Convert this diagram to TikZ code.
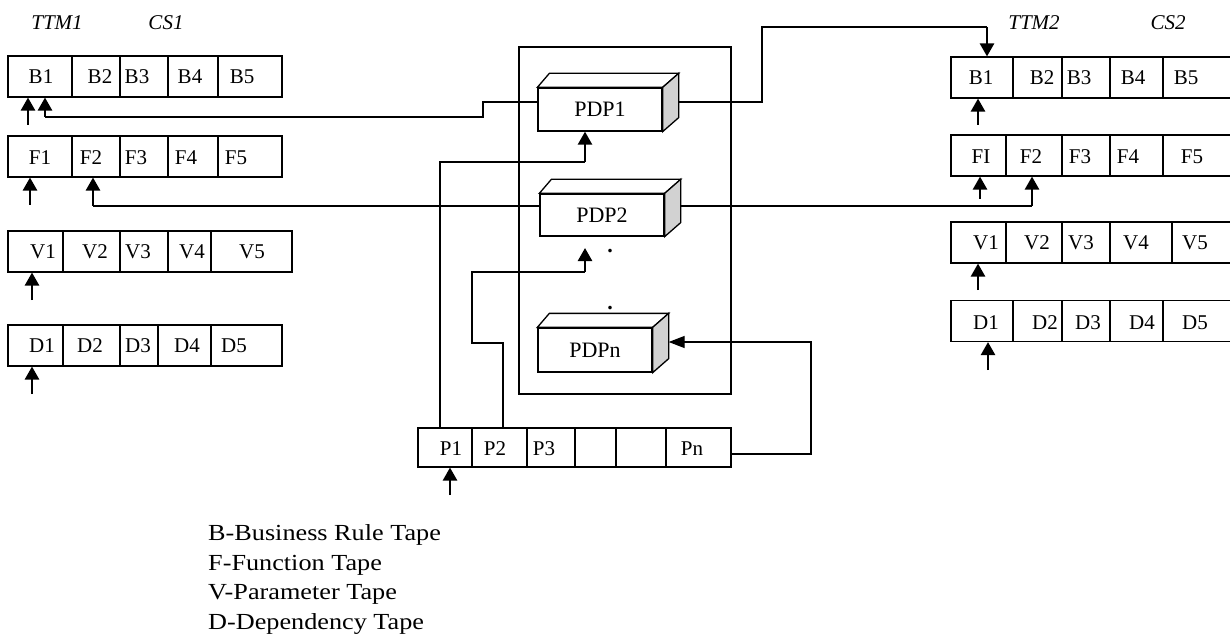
\documentclass[tikz,border=0pt]{standalone}
\usepackage{fontspec}
\setmainfont{Liberation Serif}
\usetikzlibrary{arrows.meta,calc}
\begin{document}
\begin{tikzpicture}[x=1pt,y=-1pt,
 tp/.style={draw, line width=1.1pt, inner sep=0, minimum height=41pt},
 lbl/.style={font=\fontsize{21}{21}\selectfont, inner sep=0},
 ttm/.style={font=\itshape\fontsize{21}{21}\selectfont, inner sep=0},
 ln/.style={line width=1.1pt},
 arr/.style={line width=2.5pt, -{Triangle[width=14pt,length=13pt]}},
 tarr/.style={line width=1.3pt, -{Triangle[width=12pt,length=16pt]}},
 pdp/.style={draw, line width=1.3pt, fill=white, font=\fontsize{22}{22}\selectfont, inner sep=0},
 pdpside/.style={draw, line width=1.3pt, fill=gray!35},
 pdptop/.style={draw, line width=1.3pt, fill=white},
 legend/.style={font=\fontsize{23}{23}\selectfont, anchor=west, inner sep=0}]
\useasboundingbox (0,0) rectangle (1230,636);

% headings
\node[ttm] (ttm1) at (57,23) {TTM1};
\node[ttm] (cs1) at (166,23) {CS1};
\node[ttm] (ttm2) at (1034,23) {TTM2};
\node[ttm] (cs2) at (1168,23) {CS2};

% left tapes
\node[tp, minimum width=274pt] (LB) at (145,76.5) {};
\foreach \x in {72,120,168,218} \draw[ln] (\x,56) -- (\x,97);
\foreach \x/\t in {41/B1,100/B2,137/B3,190/B4,242/B5} \node[lbl] (L\t) at (\x,77) {\t};

\node[tp, minimum width=274pt] (LF) at (145,156.5) {};
\foreach \x in {72,120,168,218} \draw[ln] (\x,136) -- (\x,177);
\foreach \x/\t in {40/F1,91/F2,136/F3,186/F4,236/F5} \node[lbl] (L\t) at (\x,158) {\t};

\node[tp, minimum width=284pt] (LV) at (150,251.5) {};
\foreach \x in {63,120,168,211} \draw[ln] (\x,231) -- (\x,272);
\foreach \x/\t in {43/V1,95/V2,138/V3,192/V4,252/V5} \node[lbl] (L\t) at (\x,252) {\t};

\node[tp, minimum width=274pt] (LD) at (145,345.5) {};
\foreach \x in {63,120,158,211} \draw[ln] (\x,325) -- (\x,366);
\foreach \x/\t in {42/D1,90/D2,138/D3,187/D4,234/D5} \node[lbl] (L\t) at (\x,346) {\t};

% right tapes
\node[tp, minimum width=289pt] (RB) at (1095.5,77.5) {};
\foreach \x in {1013,1062,1110,1163} \draw[ln] (\x,57) -- (\x,98);
\foreach \x/\t in {981/B1,1042/B2,1079/B3,1133/B4,1186/B5} \node[lbl] (R\t) at (\x,78) {\t};

\node[tp, minimum width=289pt] (RF) at (1095.5,155.5) {};
\foreach \x in {1006,1062,1110,1163} \draw[ln] (\x,135) -- (\x,176);
\foreach \x/\t in {981/FI,1031/F2,1080/F3,1128/F4,1192/F5} \node[lbl] (R\t) at (\x,157) {\t};

\node[tp, minimum width=289pt] (RV) at (1095.5,242.5) {};
\foreach \x in {1006,1062,1110,1172} \draw[ln] (\x,222) -- (\x,263);
\foreach \x/\t in {986/V1,1037/V2,1081/V3,1136/V4,1195/V5} \node[lbl] (R\t) at (\x,243) {\t};

\node[tp, minimum width=289pt] (RD) at (1095.5,321) {};
\foreach \x in {1013,1062,1110,1163} \draw[ln] (\x,300.5) -- (\x,341.5);
\foreach \x/\t in {986/D1,1045/D2,1088/D3,1142/D4,1195/D5} \node[lbl] (R\t) at (\x,323) {\t};

% P tape
\node[tp, minimum width=313pt, minimum height=39pt] (PT) at (574.5,447.5) {};
\foreach \x in {472,527,575,616,666} \draw[ln] (\x,428) -- (\x,467);
\foreach \x/\t in {451/P1,495/P2,544/P3,692/Pn} \node[lbl] (T\t) at (\x,449) {\t};

% container
\node[draw, line width=1.1pt, minimum width=212pt, minimum height=347pt, inner sep=0] (box) at (625,220.5) {};

% PDP boxes
\node[pdp, minimum width=124pt, minimum height=43pt] (p1) at (600,109.5) {PDP1};
\node[pdp, minimum width=124pt, minimum height=42pt] (p2) at (602,215) {PDP2};
\node[pdp, minimum width=114pt, minimum height=44pt] (pn) at (595,350) {PDPn};
\foreach \n in {p1,p2,pn}{
  \draw[pdptop] (\n.north west) -- ++(12,-14) -- ($(\n.north east)+(16,-14)$) -- (\n.north east) -- cycle;
  \draw[pdpside] (\n.north east) -- ++(16,-14) -- ($(\n.south east)+(16,-14)$) -- (\n.south east) -- cycle;
}
\node[lbl, font=\fontsize{22}{22}\selectfont\bfseries] (dot1) at (610,251) {.};
\node[lbl, font=\fontsize{22}{22}\selectfont\bfseries] (dot2) at (610,308) {.};

% small pointer arrows
\coordinate (aLB) at (28,125);  \draw[arr] (aLB) -- (aLB |- LB.south);
\coordinate (aLF) at (30,205);  \draw[arr] (aLF) -- (aLF |- LF.south);
\coordinate (aLV) at (32,300);  \draw[arr] (aLV) -- (aLV |- LV.south);
\coordinate (aLD) at (32,394);  \draw[arr] (aLD) -- (aLD |- LD.south);
\coordinate (aRB) at (978,125); \draw[arr] (aRB) -- (aRB |- RB.south);
\coordinate (aRF) at (980,199); \draw[arr] (aRF) -- (aRF |- RF.south);
\coordinate (aRV) at (978,290); \draw[arr] (aRV) -- (aRV |- RV.south);
\coordinate (aRD) at (988,370); \draw[arr] (aRD) -- (aRD |- RD.south);
\coordinate (aPT) at (450,495); \draw[arr] (aPT) -- (aPT |- PT.south);

% PDP1 connectors
\coordinate (c1) at (483,117);
\coordinate (c2) at (45,117);
\draw[ln] ($(p1.west)+(0,-7.5)$) -| (c1) -- (c2);
\draw[arr] (c2) -- (c2 |- LB.south);
\coordinate (c3) at (762,27);
\coordinate (c4) at (987,27);
\draw[ln] ($(p1.east)+(16,-7.5)$) -| (c3) -- (c4);
\draw[arr] (c4) -- (c4 |- RB.north);

% PDP2 connectors
\coordinate (d1) at (93,206);
\coordinate (d2) at (1032,206);
\draw[ln] ($(p2.west)+(0,-9)$) -- (d1);
\draw[arr] (d1) -- (d1 |- LF.south);
\draw[ln] ($(p2.east)+(16,-9)$) -- (d2);
\draw[arr] (d2) -- (d2 |- RF.south);

% P tape connectors
\coordinate (q1) at (440,162);
\coordinate (q1b) at (585,162);
\draw[ln] (q1 |- PT.north) -- (q1) -- (q1b);
\draw[arr] (q1b) -- (q1b |- p1.south);
\coordinate (q2a) at (503,343);
\coordinate (q2b) at (472,272);
\coordinate (q2c) at (585,272);
\draw[ln] (q2a |- PT.north) -- (q2a) -| (q2b) -- (q2c);
\draw[arr] (q2c) -- ++(0,-24);
\coordinate (q3) at (811,454);
\draw[tarr] (PT.east |- q3) -- (q3) |- ($(pn.east)+(16,-8)$);

% legend
\node[legend] (lg1) at (208,535) {\scalebox{1.14}[1]{B-Business Rule Tape}};
\node[legend] (lg2) at (208,565) {\scalebox{1.14}[1]{F-Function Tape}};
\node[legend] (lg3) at (208,594) {\scalebox{1.14}[1]{V-Parameter Tape}};
\node[legend] (lg4) at (208,624) {\scalebox{1.14}[1]{D-Dependency Tape}};
\end{tikzpicture}
\end{document}
